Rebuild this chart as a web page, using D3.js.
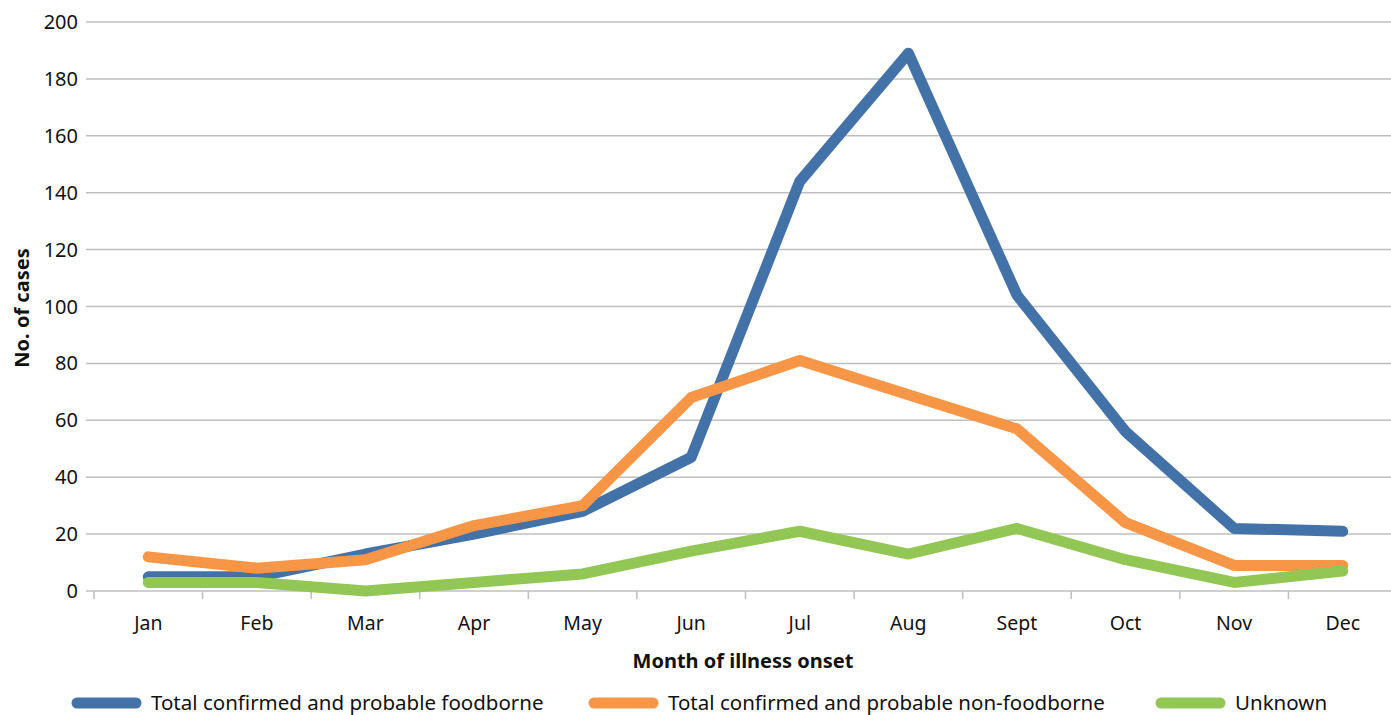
<!DOCTYPE html>
<html><head><meta charset="utf-8">
<script src="https://cdn.jsdelivr.net/npm/d3@7"></script>
<style>body{margin:0;background:#fff;overflow:hidden}svg{display:block;font-family:"Noto Sans","Open Sans",sans-serif}</style>
</head><body><svg id="c" width="1391" height="715"></svg>
<script>
const months = ["Jan","Feb","Mar","Apr","May","Jun","Jul","Aug","Sept","Oct","Nov","Dec"];
const foodborne = [5,5,13,20,28,47,144,189,104,56,22,21];
const nonFoodborne = [12,8,11,23,30,68,81,69,57,24,9,9];
const unknown = [3,3,0,3,6,14,21,13,22,11,3,7];
const yTicks = [0,20,40,60,80,100,120,140,160,180,200];
const seriesNames = ["Total confirmed and probable foodborne","Total confirmed and probable non-foodborne","Unknown"];
const colors = ["#4272a8","#f79646","#92c755"];
const series = [foodborne, nonFoodborne, unknown];

const svg = d3.select("#c");
const x = d3.scaleBand().domain(months).range([94, 1397]);
const y = d3.scaleLinear().domain([0,200]).range([591, 22]);

svg.append("g").selectAll("line").data(yTicks).join("line")
  .attr("x1",86).attr("x2",1391).attr("y1",d=>y(d)).attr("y2",d=>y(d))
  .attr("stroke","#bfbfbf").attr("stroke-width",1.5);
svg.append("g").selectAll("text").data(yTicks).join("text")
  .attr("x",78).attr("y",d=>y(d)).attr("dy","0.35em").attr("text-anchor","end")
  .attr("font-size",20).attr("fill","#111").text(d=>d);
const tickPos = months.map(m=>x(m)).concat([x.range()[1]]);
svg.append("g").selectAll("line").data(tickPos).join("line")
  .attr("x1",d=>d).attr("x2",d=>d).attr("y1",591).attr("y2",599)
  .attr("stroke","#bfbfbf").attr("stroke-width",1.5);
svg.append("g").selectAll("text").data(months).join("text")
  .attr("x",d=>x(d)+x.bandwidth()/2).attr("y",623).attr("dy","0.35em").attr("text-anchor","middle")
  .attr("font-size",19.5).attr("fill","#111").text(d=>d);
svg.append("text").attr("x",743).attr("y",661).attr("dy","0.35em").attr("text-anchor","middle")
  .attr("font-size",20).attr("font-weight","bold").attr("fill","#111").text("Month of illness onset");
svg.append("text").attr("transform","translate(22,308) rotate(-90)").attr("dy","0.35em").attr("text-anchor","middle")
  .attr("font-size",20).attr("font-weight","bold").attr("fill","#111").text("No. of cases");

const line = d3.line().x((d,i)=>x(months[i])+x.bandwidth()/2).y(d=>y(d));
series.forEach((s,k)=>{
  svg.append("path").datum(s).attr("d",line).attr("fill","none")
    .attr("stroke",colors[k]).attr("stroke-width",11).attr("stroke-linecap","round").attr("stroke-linejoin","round");
});

const legX = [73, 590, 1157];
const lg = svg.append("g").selectAll("g").data(seriesNames).join("g")
  .attr("transform",(d,i)=>`translate(${legX[i]},703)`);
lg.append("line").attr("x1",4).attr("x2",63).attr("y1",0).attr("y2",0)
  .attr("stroke",(d,i)=>colors[i]).attr("stroke-width",11).attr("stroke-linecap","round");
lg.append("text").attr("x",78).attr("y",0).attr("dy","0.35em").attr("font-size",20.5).attr("fill","#111").text(d=>d);
</script></body></html>
